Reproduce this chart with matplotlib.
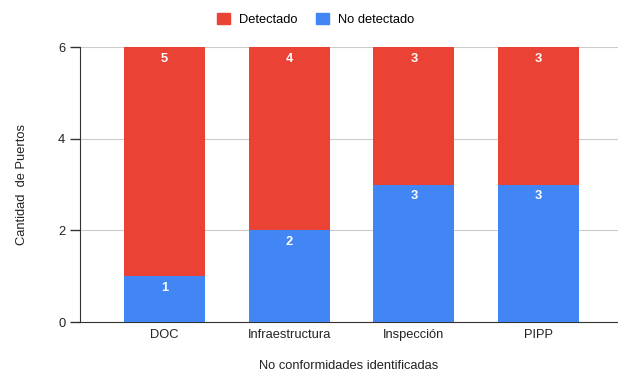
import matplotlib as mpl
mpl.use('Agg')
import matplotlib.pyplot as plt
from matplotlib.patches import Patch

categories = ['DOC', 'Infraestructura', 'Inspección', 'PIPP']
detectado = [5, 4, 3, 3]
no_detectado = [1, 2, 3, 3]

red = '#ea4335'
blue = '#4285f4'

plt.rcParams['font.family'] = ['Liberation Sans', 'DejaVu Sans']
fs = 9.3

fig = plt.figure(figsize=(6.18, 3.71), dpi=100)
ax = fig.add_axes([0.1294, 0.132, 0.8706, 0.7413])

x = list(range(len(categories)))
w = 0.65
ax.bar(x, no_detectado, width=w, color=blue, zorder=3)
ax.bar(x, detectado, width=w, bottom=no_detectado, color=red, zorder=3)

# value labels just below the top of each segment
for i in x:
    ax.text(i, no_detectado[i] - 0.26, str(no_detectado[i]), ha='center', va='center',
            color='white', fontsize=fs, fontweight='bold', zorder=4)
    top = no_detectado[i] + detectado[i]
    ax.text(i, top - 0.26, str(detectado[i]), ha='center', va='center',
            color='white', fontsize=fs, fontweight='bold', zorder=4)

ax.set_xlim(-0.678, 3.637)
ax.set_ylim(0, 6)
ax.set_yticks([0, 2, 4, 6])
ax.set_xticks(x)
ax.set_xticklabels(categories)
ax.grid(axis='y', color='#cccccc', linewidth=0.8, zorder=0)
for s in ['top', 'right']:
    ax.spines[s].set_visible(False)
ax.spines['left'].set_color('#333333')
ax.spines['bottom'].set_color('#333333')
ax.tick_params(axis='y', length=7, width=1, color='#333333', labelsize=fs, labelcolor='#222222')
ax.tick_params(axis='x', length=0, pad=5, labelsize=fs, labelcolor='#222222')

ax.set_ylabel('Cantidad  de Puertos', fontsize=fs, color='#222222', labelpad=22)
ax.set_xlabel('No conformidades identificadas', fontsize=fs, color='#222222', labelpad=14)

handles = [Patch(color=red, label='Detectado'), Patch(color=blue, label='No detectado')]
fig.legend(handles=handles, loc='center', bbox_to_anchor=(0.5105, 0.948), ncol=2,
           frameon=False, fontsize=fs, handlelength=1.0, handleheight=1.0,
           columnspacing=1.4, handletextpad=0.7)

fig.savefig('out.png', dpi=100)
